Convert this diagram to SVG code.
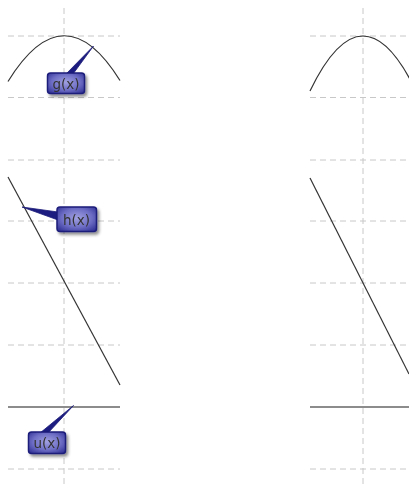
<svg xmlns="http://www.w3.org/2000/svg" width="409" height="486" viewBox="0 0 409 486">
<style>
.grid{stroke:#c8c8c8;stroke-width:1;stroke-dasharray:6 4;fill:none}
.curve{stroke:#333;stroke-width:1.2;fill:none}
.axis{stroke:#666;stroke-width:1.5;fill:none}
.box{fill:url(#bg);stroke:#1c1c7a;stroke-width:1.5}
.tail{fill:#1c1c80;stroke:#1c1c7a;stroke-width:0.8}
.lbl{font-family:"DejaVu Sans","Liberation Sans",sans-serif;font-size:13.5px;fill:#333;text-anchor:middle}
</style>
<defs>
<radialGradient id="bg" cx="50%" cy="45%" r="65%">
<stop offset="0" stop-color="#a0a0e0"/>
<stop offset="0.6" stop-color="#6c6cc4"/>
<stop offset="1" stop-color="#36369a"/>
</radialGradient>
<filter id="sh" x="-30%" y="-30%" width="160%" height="170%">
<feDropShadow dx="2" dy="2.5" stdDeviation="1.5" flood-color="#000" flood-opacity="0.45"/>
</filter>
</defs>
<g id="grid-left">
<line class="grid" x1="64" y1="8" x2="64" y2="484"/>
<line class="grid" x1="8" y1="36" x2="120" y2="36"/>
<line class="grid" x1="8" y1="97.5" x2="120" y2="97.5"/>
<line class="grid" x1="8" y1="160" x2="120" y2="160"/>
<line class="grid" x1="8" y1="221" x2="120" y2="221"/>
<line class="grid" x1="8" y1="283" x2="120" y2="283"/>
<line class="grid" x1="8" y1="345" x2="120" y2="345"/>
<line class="grid" x1="8" y1="469" x2="120" y2="469"/>
</g>
<g id="grid-right">
<line class="grid" x1="363" y1="8" x2="363" y2="484"/>
<line class="grid" x1="310" y1="36" x2="409" y2="36"/>
<line class="grid" x1="310" y1="97.5" x2="409" y2="97.5"/>
<line class="grid" x1="310" y1="160" x2="409" y2="160"/>
<line class="grid" x1="310" y1="221" x2="409" y2="221"/>
<line class="grid" x1="310" y1="283" x2="409" y2="283"/>
<line class="grid" x1="310" y1="345" x2="409" y2="345"/>
<line class="grid" x1="310" y1="469" x2="409" y2="469"/>
</g>
<g id="curves-left">
<path class="curve" d="M8,81.5 Q64,-9.5 120,80.5"/>
<line class="curve" x1="8" y1="177" x2="120" y2="385"/>
<line class="axis" x1="8" y1="407" x2="120" y2="407"/>
</g>
<g id="curves-right">
<path class="curve" d="M310,91 Q363,-19 416,91"/>
<line class="curve" x1="310" y1="178" x2="409" y2="374"/>
<line class="axis" x1="310" y1="407" x2="409" y2="407"/>
</g>
<g id="connectors">
<polygon class="tail" points="93.5,46 66,74 73,74"/>
<polygon class="tail" points="22,207 58,212 58,220"/>
<polygon class="tail" points="73.5,405.5 40,433 48,433"/>
</g>
<g id="g-label" filter="url(#sh)">
<rect class="box" x="47.5" y="73" width="37" height="20.5" rx="3"/>
<text class="lbl" x="66" y="88.5">g(x)</text>
</g>
<g id="h-label" filter="url(#sh)">
<rect class="box" x="57" y="207" width="39.5" height="24.5" rx="3"/>
<text class="lbl" x="76.5" y="224.5">h(x)</text>
</g>
<g id="u-label" filter="url(#sh)">
<rect class="box" x="28.5" y="432" width="37" height="21.5" rx="3"/>
<text class="lbl" x="47" y="447.5">u(x)</text>
</g>
</svg>
